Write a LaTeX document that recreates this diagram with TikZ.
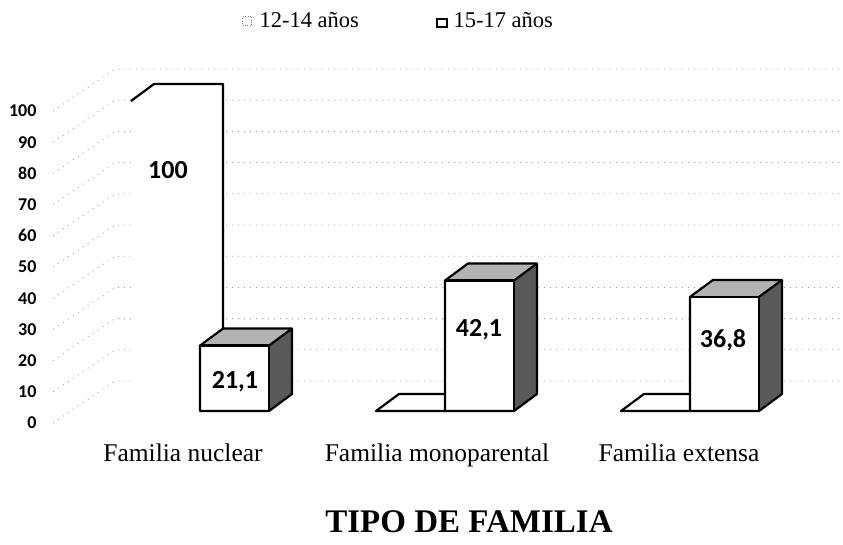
\documentclass[tikz,border=0pt]{standalone}
\usepackage{fontspec}
\setmainfont{Liberation Serif}
\newfontfamily\calfont{Carlito}
\begin{document}
\begin{tikzpicture}[x=1pt,y=-1pt,
    grid/.style={gray!75,line width=0.8pt,dash pattern=on 1pt off 5pt},
    barline/.style={line width=2.2pt,line join=round},
    topface/.style={fill=black!30},
    sideface/.style={fill=black!65},
    ticklbl/.style={font=\calfont\bfseries\fontsize{18}{21}\selectfont,anchor=east},
    vallbl/.style={font=\calfont\bfseries\fontsize{26}{30}\selectfont},
    catlbl/.style={font=\fontsize{25.5}{29}\selectfont,anchor=base},
    leglbl/.style={font=\fontsize{22.5}{26}\selectfont,anchor=west}]
  \useasboundingbox (0,0) rectangle (843,545);

  \foreach \v in {0,10,...,100}{
    \draw[grid] (53,{423-3.12*\v}) -- (115,{381-3.12*\v}) -- (840,{381-3.12*\v});
    \node[ticklbl] (t\v) at (40,{423-3.12*\v}) {\v};
  }

  \fill[white] (131,411) -- (131,101) -- (154,84) -- (223,84) -- (223,411) -- cycle;
  \draw[barline] (131,101) -- (154,84) -- (223,84) -- (223,330);

  \foreach \xa in {376,621}{
    \fill[white] (\xa,411) -- ({\xa+23},394) -- ({\xa+69},394) -- ({\xa+69},411) -- cycle;
    \draw[barline] ({\xa+69},394) -- ({\xa+23},394) -- (\xa,411) -- ({\xa+69},411);
  }

  \foreach \xa/\v in {200/21.1,445/42.1,690/36.8}{
    \pgfmathsetmacro\yt{411-3.1*\v}
    \pgfmathsetmacro\xb{\xa+69}
    \fill[white] (\xa,411) rectangle (\xb,\yt);
    \fill[topface] (\xa,\yt) -- ({\xa+23},{\yt-17}) -- ({\xb+23},{\yt-17}) -- (\xb,\yt) -- cycle;
    \fill[sideface] (\xb,\yt) -- ({\xb+23},{\yt-17}) -- ({\xb+23},394) -- (\xb,411) -- cycle;
    \draw[barline] (\xa,411) -- (\xa,\yt) -- ({\xa+23},{\yt-17}) -- ({\xb+23},{\yt-17})
      -- ({\xb+23},394) -- (\xb,411) -- cycle;
    \draw[barline] (\xb,411) -- (\xb,\yt) -- (\xa,\yt);
    \draw[barline] (\xb,\yt) -- ({\xb+23},{\yt-17});
  }

  \node[vallbl] (v1) at (168,170) {100};
  \node[vallbl] (v2) at (235,382) {21,1};
  \node[vallbl] (v3) at (479,330) {42,1};
  \node[vallbl] (v4) at (723,340) {36,8};

  \node[catlbl] (c1) at (183,461) {Familia nuclear};
  \node[catlbl] (c2) at (437,461) {Familia monoparental};
  \node[catlbl] (c3) at (679,461) {Familia extensa};

  \node[font=\bfseries\fontsize{33}{38}\selectfont] (title) at (469,522) {TIPO DE FAMILIA};

  \node[draw=gray,dotted,minimum size=9pt,inner sep=0pt] (m1) at (247,21) {};
  \node[leglbl] (l1) at (256,20) {12-14 años};
  \node[draw,line width=1.6pt,minimum width=10pt,minimum height=8pt,inner sep=0pt] (m2) at (442,23) {};
  \node[leglbl] (l2) at (450,20) {15-17 años};
\end{tikzpicture}
\end{document}
